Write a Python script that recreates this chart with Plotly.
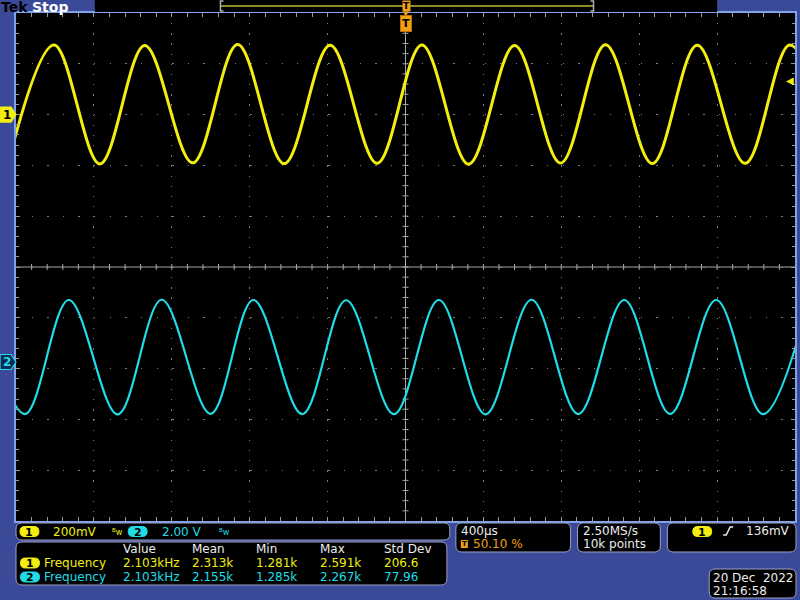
import plotly.graph_objects as go

# Channel 1 (yellow): times (µs, relative to trigger) of successive troughs/peaks and their levels (mV)
CH1_EXT_T_US = [-2045, -1809, -1573, -1343, -1097, -866, -627, -391, -150, 80,
                320, 556, 792, 1023, 1263, 1494, 1740, 1970, 2211]
CH1_EXT_MV = [-192, 274, -194, 272, -190, 276, -193, 273, -192, 274,
              -195, 272, -191, 275, -193, 273, -192, 274, -192]
# Channel 2 (cyan): times (µs) of successive peaks/troughs and their levels (V)
CH2_EXT_T_US = [-2194, -1958, -1733, -1482, -1256, -1005, -785, -534, -309, -63,
                167, 407, 643, 883, 1119, 1355, 1591, 1832, 2067]
CH2_EXT_V = [2.44, -2.05, 2.44, -2.06, 2.45, -2.04, 2.44, -2.05, 2.43, -2.05,
             2.44, -2.06, 2.45, -2.05, 2.44, -2.04, 2.44, -2.05, 2.44]

# Scope settings
CH1_VDIV_MV = 200
CH2_VDIV_V = 2.0
TDIV_US = 400
CH1_POS_DIV = 3.0
CH2_POS_DIV = -1.87
TRIG_POS_PCT = 50.10
TRIG_LEVEL_MV = 136

CH1_SCALE_TXT = "200mV"
CH2_SCALE_TXT = "2.00 V"
TIMEBASE_TXT = "400µs"
TRIG_POS_TXT = "50.10 %"
SAMPLE_RATE_TXT = "2.50MS/s"
RECORD_TXT = "10k points"
TRIG_LEVEL_TXT = "136mV"
DATE_TXT = "20 Dec  2022"
TIME_TXT = "21:16:58"

MEAS_HEADERS = ["Value", "Mean", "Min", "Max", "Std Dev"]
MEAS_NAME = "Frequency"
CH1_MEAS = ["2.103kHz", "2.313k", "1.281k", "2.591k", "206.6"]
CH2_MEAS = ["2.103kHz", "2.155k", "1.285k", "2.267k", "77.96"]

# ---------------- styling / layout constants ----------------
BLUE = "#3b4999"
BORDER = "#7ea3ea"
GRID = "#7a7a7a"
YEL = "#f2ee10"
CYA = "#1fdce6"
ORANGE = "#f0a014"
WHITE = "#ececec"
BOXLINE = "#9ea2c4"
FONT = "DejaVu Sans"

L, T, R, B = 16, 13, 797, 521          # plot area in pixels
PW, PH = R - L, B - T


def X(px):
    return (px - L) / PW


def Y(py):
    return (B - py) / PH


x_left = -TRIG_POS_PCT / 100 * 10 * TDIV_US
x_right = x_left + 10 * TDIV_US
y1_rng = [(-5 - CH1_POS_DIV) * CH1_VDIV_MV, (5 - CH1_POS_DIV) * CH1_VDIV_MV]
y2_rng = [(-5 - CH2_POS_DIV) * CH2_VDIV_V, (5 - CH2_POS_DIV) * CH2_VDIV_V]

fig = go.Figure()
fig.add_trace(go.Scatter(x=CH1_EXT_T_US, y=CH1_EXT_MV, mode="lines",
                         line=dict(color=YEL, width=3.0, shape="spline", smoothing=1.0),
                         yaxis="y", hoverinfo="skip", showlegend=False))
fig.add_trace(go.Scatter(x=CH2_EXT_T_US, y=CH2_EXT_V, mode="lines",
                         line=dict(color=CYA, width=2.2, shape="spline", smoothing=1.0),
                         yaxis="y2", hoverinfo="skip", showlegend=False))

axis_common = dict(showticklabels=False, ticks="inside", ticklen=4, tickcolor="#9a9a9a",
                   tickwidth=1, showline=True, linecolor=BORDER, linewidth=2,
                   mirror="allticks", showgrid=True, gridcolor=GRID, gridwidth=1.3,
                   zeroline=False, fixedrange=True)

fig.update_layout(
    width=800, height=600,
    margin=dict(l=L, r=800 - R, t=T, b=600 - B),
    paper_bgcolor=BLUE, plot_bgcolor="black",
    font=dict(family=FONT, color=WHITE, size=12),
    showlegend=False,
    xaxis=dict(range=[x_left, x_right], tick0=x_left, dtick=TDIV_US,
               griddash="1.3px,8.86px",
               minor=dict(dtick=TDIV_US / 5, tick0=x_left, ticks="inside", ticklen=3,
                          tickcolor="#9a9a9a", showgrid=False),
               **axis_common),
    yaxis=dict(range=y1_rng, tick0=y1_rng[0], dtick=CH1_VDIV_MV,
               griddash="1.3px,14.32px",
               minor=dict(dtick=CH1_VDIV_MV / 5, tick0=y1_rng[0], ticks="inside", ticklen=3,
                          tickcolor="#9a9a9a", showgrid=False),
               **axis_common),
    yaxis2=dict(range=y2_rng, overlaying="y", visible=False, fixedrange=True),
)

shapes = []
ann = []

# centre cross of the graticule
x_mid = (x_left + x_right) / 2
y_mid = (y1_rng[0] + y1_rng[1]) / 2
shapes.append(dict(type="line", xref="x", yref="paper", x0=x_mid, x1=x_mid, y0=0, y1=1,
                   line=dict(color="#a8a8a8", width=1), layer="between"))
shapes.append(dict(type="line", xref="paper", yref="y", x0=0, x1=1, y0=y_mid, y1=y_mid,
                   line=dict(color="#a8a8a8", width=1), layer="between"))
for k in range(1, 50):
    t = x_left + k * TDIV_US / 5
    shapes.append(dict(type="line", xref="x", yref="y", x0=t, x1=t, ysizemode="pixel",
                       yanchor=y_mid, y0=-3, y1=3, line=dict(color="#a8a8a8", width=1),
                       layer="between"))
    v = y1_rng[0] + k * CH1_VDIV_MV / 5
    shapes.append(dict(type="line", xref="x", yref="y", y0=v, y1=v, xsizemode="pixel",
                       xanchor=x_mid, x0=-3, x1=3, line=dict(color="#a8a8a8", width=1),
                       layer="between"))


def rrect(x0, y0, x1, y1, r):
    rx, ry = r / PW, r / PH
    a, b, c, d = X(x0), Y(y0), X(x1), Y(y1)
    return (f"M {a+rx},{b} L {c-rx},{b} Q {c},{b} {c},{b-ry} L {c},{d+ry} "
            f"Q {c},{d} {c-rx},{d} L {a+rx},{d} Q {a},{d} {a},{d+ry} L {a},{b-ry} "
            f"Q {a},{b} {a+rx},{b} Z")


def box(x0, y0, x1, y1, r=6, fill="black", line=BOXLINE, lw=1):
    shapes.append(dict(type="path", xref="paper", yref="paper", path=rrect(x0, y0, x1, y1, r),
                       fillcolor=fill, line=dict(color=line, width=lw), layer="above"))


def text(x, y, s, color=WHITE, size=12, anchor="left", bold=False, xref="paper", yref="paper"):
    if bold:
        s = f"<b>{s}</b>"
    ann.append(dict(x=X(x) if xref == "paper" else x, y=Y(y) if yref == "paper" else y,
                    xref=xref, yref=yref, text=s, showarrow=False, xanchor=anchor,
                    yanchor="middle", font=dict(color=color, size=size, family=FONT),
                    borderpad=0))


def pill(xc, yc, label, fill, tcolor="black", w=19, h=10):
    box(xc - w / 2, yc - h / 2, xc + w / 2, yc + h / 2, r=h / 2, fill=fill, line=fill)
    text(xc, yc + 0.5, label, color=tcolor, size=11, anchor="center", bold=True)


# ---- top bar ----
shapes.append(dict(type="rect", xref="paper", yref="paper", x0=X(95), x1=X(719),
                   y0=Y(12), y1=Y(-2), fillcolor="black", line=dict(width=0), layer="above"))
text(0, 6.5, "Tek", color="black", size=14, bold=True)
text(31, 6.5, "Stop", color="white", size=14, bold=True)
shapes.append(dict(type="rect", xref="paper", yref="paper", x0=X(221), x1=X(595),
                   y0=Y(7), y1=Y(5), fillcolor="#8c8a2a", line=dict(width=0), layer="above"))
for xa, xb in ((224, 221), (592, 595)):
    shapes.append(dict(type="path", xref="paper", yref="paper",
                       path=f"M {X(xa)},{Y(1)} L {X(xb)},{Y(1)} L {X(xb)},{Y(11)} L {X(xa)},{Y(11)}",
                       line=dict(color="#b0b0b0", width=1.5), layer="above"))
# trigger position markers
ann.append(dict(x=0, y=Y(6), xref="x", yref="paper", text="<b>T</b>", showarrow=False,
                font=dict(color="black", size=9, family=FONT), bgcolor=ORANGE, borderpad=0,
                xanchor="center", yanchor="middle"))
ann.append(dict(x=0, y=Y(14), xref="x", yref="paper", text="▼", showarrow=False,
                font=dict(color=ORANGE, size=7, family=FONT), xanchor="center", yanchor="middle"))
ann.append(dict(x=0, y=Y(23.5), xref="x", yref="paper", text="<b>T</b>", showarrow=False,
                font=dict(color="black", size=11, family=FONT), bgcolor=ORANGE, borderpad=1,
                bordercolor="#c07000", borderwidth=1, xanchor="center", yanchor="middle"))

# ---- channel ground markers ----
for yref, lab, fill, tcol, lcol in (("y", "1", YEL, "black", YEL), ("y2", "2", "#0c2a55", CYA, CYA)):
    shapes.append(dict(type="path", xref="paper", yref=yref, ysizemode="pixel", yanchor=0,
                       path=f"M {X(0)},-7.5 L {X(11)},-7.5 L {X(16)},0 L {X(11)},7.5 L {X(0)},7.5 Z",
                       fillcolor=fill, line=dict(color=lcol, width=1.2), layer="above"))
    text(6.5, 0, f"<b>{lab}</b>", color=tcol, size=12, anchor="center", yref=yref)

# trigger level arrow
ann.append(dict(x=X(792), y=TRIG_LEVEL_MV, xref="paper", yref="y", text="◀", showarrow=False,
                font=dict(color=YEL, size=10, family=FONT), xanchor="center", yanchor="middle"))

# ---- bottom readouts ----
box(16, 523, 451, 540)
pill(29.5, 531.5, "1", YEL)
text(52, 531.5, CH1_SCALE_TXT, color=YEL)
text(111, 532, "<sup>B</sup>w", color=YEL, size=8)
pill(138, 531.5, "2", CYA)
text(161, 531.5, CH2_SCALE_TXT, color=CYA)
text(219, 532, "<sup>B</sup>w", color=CYA, size=8)

box(16, 542, 448, 585)
col_x = [122, 191, 256, 320, 384]
for cx, h in zip(col_x, MEAS_HEADERS):
    text(cx, 548.5, h, color=WHITE)
for yy, col, vals, lab in ((563, YEL, CH1_MEAS, "1"), (577, CYA, CH2_MEAS, "2")):
    pill(30, yy, lab, col)
    text(43, yy, MEAS_NAME, color=col)
    for cx, v in zip(col_x, vals):
        text(cx, yy, v, color=col)

box(457, 523, 572, 552)
text(461, 531, TIMEBASE_TXT, color=WHITE)
shapes.append(dict(type="rect", xref="paper", yref="paper", x0=X(462), x1=X(469),
                   y0=Y(548), y1=Y(540), fillcolor=ORANGE, line=dict(width=0), layer="above"))
text(465.5, 544, "<b>T</b>", color="black", size=7, anchor="center")
text(473, 544, TRIG_POS_TXT, color=ORANGE)

box(579, 523, 662, 552)
text(583, 531, SAMPLE_RATE_TXT, color=WHITE)
text(583, 544, RECORD_TXT, color=WHITE)

box(669, 523, 798, 552)
pill(704, 531.5, "1", YEL)
shapes.append(dict(type="path", xref="paper", yref="paper",
                   path=f"M {X(725)},{Y(535)} L {X(728)},{Y(535)} L {X(732)},{Y(527)} L {X(735)},{Y(527)}",
                   line=dict(color=WHITE, width=1.5), layer="above"))
text(747, 531, TRIG_LEVEL_TXT, color=WHITE)

box(711, 569, 798, 598)
text(714, 578, DATE_TXT, color=WHITE)
text(714, 591, TIME_TXT, color=WHITE)

fig.update_layout(shapes=shapes, annotations=ann)
fig.write_html("out.html", config={"displayModeBar": False},
               post_script="document.body.style.margin='0';document.body.style.overflow='hidden';")
